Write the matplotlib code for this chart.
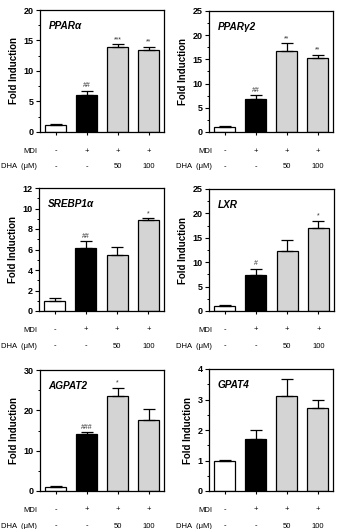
import matplotlib
matplotlib.use("Agg")
import matplotlib.pyplot as plt
from matplotlib.ticker import MultipleLocator

plt.rcParams['font.family'] = ['Liberation Sans', 'DejaVu Sans']

genes = ["PPARα", "PPARγ2", "SREBP1α", "LXR", "AGPAT2", "GPAT4"]
mdi_labels = ["-", "+", "+", "+"]
dha_labels = ["-", "-", "50", "100"]
bar_colors = ["white", "black", "#d4d4d4", "#d4d4d4"]

ppara = [1.1, 6.0, 13.9, 13.4]
ppara_err = [0.15, 0.8, 0.45, 0.6]
ppara_sig = ["", "##", "***", "**"]

pparg2 = [1.1, 6.9, 16.8, 15.2]
pparg2_err = [0.15, 0.7, 1.5, 0.8]
pparg2_sig = ["", "##", "**", "**"]

srebp1a = [1.0, 6.1, 5.45, 8.9]
srebp1a_err = [0.3, 0.75, 0.75, 0.15]
srebp1a_sig = ["", "##", "", "*"]

lxr = [1.0, 7.3, 12.3, 17.0]
lxr_err = [0.2, 1.4, 2.2, 1.5]
lxr_sig = ["", "#", "", "*"]

agpat2 = [1.0, 14.1, 23.5, 17.7]
agpat2_err = [0.15, 0.5, 2.1, 2.7]
agpat2_sig = ["", "###", "*", ""]

gpat4 = [1.0, 1.72, 3.13, 2.73]
gpat4_err = [0.02, 0.27, 0.55, 0.25]
gpat4_sig = ["", "", "", ""]

ymax = [20, 25, 12, 25, 30, 4]
ymajor = [5, 5, 2, 5, 10, 1]
yminor = [2.5, 2.5, 1, 2.5, 5, 0.5]

values = [ppara, pparg2, srebp1a, lxr, agpat2, gpat4]
errors = [ppara_err, pparg2_err, srebp1a_err, lxr_err, agpat2_err, gpat4_err]
sigs = [ppara_sig, pparg2_sig, srebp1a_sig, lxr_sig, agpat2_sig, gpat4_sig]

W, H = 343, 529
fig = plt.figure(figsize=(W / 100, H / 100), dpi=100)

# axes boxes in pixels: (left, top, right, bottom)
boxes = [(40, 10, 164, 132), (209, 11, 333, 132),
         (39, 188, 164, 311), (209, 189, 334, 311),
         (40, 370, 164, 491), (209, 369, 333, 491)]
label_right = [37, 212, 37, 212, 37, 212]

x = list(range(4))
for i in range(6):
    l, t, r, b = boxes[i]
    ax = fig.add_axes([l / W, 1 - b / H, (r - l) / W, (b - t) / H])
    ax.bar(x, values[i], width=0.67, color=bar_colors, edgecolor="black",
           linewidth=0.9, zorder=2)
    ax.errorbar(x, values[i], yerr=[[0] * 4, errors[i]], fmt="none",
                ecolor="black", elinewidth=0.9, capsize=4, capthick=0.9, zorder=3)
    for xi, v, e, s in zip(x, values[i], errors[i], sigs[i]):
        if s:
            ax.text(xi, v + e + ymax[i] * 0.01, s, ha="center", va="bottom",
                    fontsize=5, color="#333333")
    ax.set_xlim(-0.5, 3.5)
    ax.set_ylim(0, ymax[i])
    ax.yaxis.set_major_locator(MultipleLocator(ymajor[i]))
    ax.yaxis.set_minor_locator(MultipleLocator(yminor[i]))
    ax.set_xticks(x)
    ax.set_xticklabels([])
    ax.tick_params(axis="x", length=2.5, width=0.8)
    ax.tick_params(axis="y", which="major", length=3, width=0.8, labelsize=6.5, pad=1.5)
    ax.tick_params(axis="y", which="minor", length=1.8, width=0.7)
    for lab in ax.get_yticklabels():
        lab.set_fontweight("bold")
    for sp in ax.spines.values():
        sp.set_linewidth(0.9)
    ax.set_ylabel("Fold Induction", fontsize=7, fontweight="bold", labelpad=3)
    ax.text(0.07, 0.91, genes[i], transform=ax.transAxes, fontsize=7.2,
            fontweight="bold", fontstyle="italic", ha="left", va="top")
    # condition rows
    for xi in x:
        xc = l + (r - l) * (xi + 0.5) / 4
        fig.text(xc / W, 1 - (b + 19) / H, mdi_labels[xi], fontsize=5.5,
                 ha="center", va="center")
        fig.text(xc / W, 1 - (b + 35) / H, dha_labels[xi], fontsize=5.5,
                 ha="center", va="center")
    fig.text(label_right[i] / W, 1 - (b + 19) / H, "MDI", fontsize=5.5,
             ha="right", va="center")
    fig.text(label_right[i] / W, 1 - (b + 35) / H, "DHA  (μM)", fontsize=5.5,
             ha="right", va="center")

fig.savefig("out.png", dpi=100)
